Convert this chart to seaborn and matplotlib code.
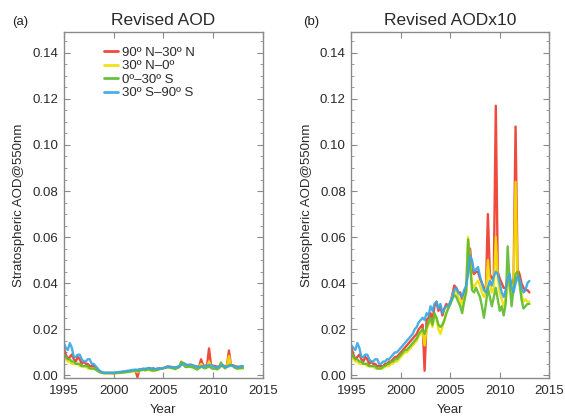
import numpy as np
import pandas as pd
import seaborn as sns
import matplotlib.pyplot as plt
from matplotlib.ticker import MultipleLocator

# time axis: 5 samples per year, 1995.0 - 2013.0
years = np.round(np.arange(1995.0, 2013.01, 0.2), 1)

regions = ['90º N–30º N', '30º N–0º', '0º–30º S', '30º S–90º S']
colors = ['#ee3a2c', '#f0e000', '#5fbb2f', '#3aa8e4']

# panel (b): Revised AODx10
b_red = [0.012, 0.009, 0.007, 0.008, 0.009, 0.007, 0.006, 0.008, 0.007, 0.005,
         0.006, 0.005, 0.005, 0.004, 0.004, 0.004, 0.004, 0.005, 0.005, 0.006,
         0.006, 0.007, 0.008, 0.008, 0.009, 0.010, 0.011, 0.012, 0.013, 0.014,
         0.015, 0.016, 0.017, 0.018, 0.020, 0.021, 0.022, 0.002, 0.024, 0.025,
         0.027, 0.024, 0.030, 0.032, 0.028, 0.030, 0.026, 0.029, 0.031, 0.030,
         0.031, 0.035, 0.039, 0.038, 0.036, 0.036, 0.033, 0.036, 0.038, 0.048,
         0.055, 0.045, 0.044, 0.045, 0.045, 0.042, 0.040, 0.038, 0.037, 0.070,
         0.044, 0.042, 0.043, 0.117, 0.045, 0.042, 0.040, 0.038, 0.038, 0.040,
         0.041, 0.040, 0.042, 0.108, 0.046, 0.044, 0.040, 0.038, 0.037, 0.037,
         0.036]
b_yellow = [0.009, 0.007, 0.006, 0.006, 0.005, 0.005, 0.005, 0.005, 0.004, 0.004,
            0.004, 0.004, 0.003, 0.003, 0.003, 0.003, 0.003, 0.004, 0.004, 0.004,
            0.005, 0.005, 0.006, 0.006, 0.007, 0.008, 0.009, 0.010, 0.010, 0.011,
            0.012, 0.013, 0.014, 0.015, 0.017, 0.018, 0.019, 0.013, 0.020, 0.022,
            0.024, 0.021, 0.026, 0.025, 0.020, 0.018, 0.021, 0.024, 0.027, 0.030,
            0.032, 0.034, 0.037, 0.036, 0.034, 0.033, 0.030, 0.034, 0.036, 0.060,
            0.050, 0.040, 0.038, 0.040, 0.041, 0.039, 0.036, 0.034, 0.036, 0.050,
            0.040, 0.036, 0.038, 0.060, 0.042, 0.036, 0.033, 0.030, 0.033, 0.038,
            0.042, 0.036, 0.038, 0.084, 0.042, 0.040, 0.035, 0.032, 0.033, 0.032,
            0.032]
b_green = [0.010, 0.008, 0.007, 0.007, 0.006, 0.006, 0.005, 0.005, 0.005, 0.004,
           0.004, 0.004, 0.004, 0.003, 0.003, 0.003, 0.004, 0.004, 0.005, 0.005,
           0.006, 0.006, 0.007, 0.007, 0.008, 0.009, 0.010, 0.011, 0.011, 0.012,
           0.013, 0.014, 0.015, 0.016, 0.018, 0.019, 0.020, 0.018, 0.021, 0.023,
           0.025, 0.022, 0.027, 0.025, 0.022, 0.021, 0.022, 0.024, 0.027, 0.029,
           0.031, 0.033, 0.035, 0.034, 0.032, 0.030, 0.027, 0.032, 0.036, 0.059,
           0.048, 0.037, 0.036, 0.038, 0.036, 0.034, 0.030, 0.025, 0.031, 0.038,
           0.034, 0.030, 0.034, 0.038, 0.033, 0.028, 0.030, 0.026, 0.031, 0.056,
           0.040, 0.030, 0.038, 0.044, 0.045, 0.040, 0.033, 0.029, 0.030, 0.031,
           0.031]
b_blue = [0.013, 0.012, 0.011, 0.014, 0.012, 0.008, 0.008, 0.009, 0.009, 0.007,
          0.006, 0.006, 0.007, 0.007, 0.005, 0.005, 0.006, 0.006, 0.007, 0.007,
          0.008, 0.009, 0.010, 0.010, 0.011, 0.012, 0.013, 0.014, 0.015, 0.016,
          0.017, 0.018, 0.020, 0.021, 0.023, 0.024, 0.025, 0.024, 0.027, 0.026,
          0.030, 0.028, 0.031, 0.032, 0.029, 0.031, 0.027, 0.029, 0.030, 0.030,
          0.032, 0.034, 0.037, 0.038, 0.036, 0.035, 0.034, 0.037, 0.039, 0.044,
          0.052, 0.050, 0.045, 0.046, 0.047, 0.043, 0.040, 0.037, 0.036, 0.038,
          0.041, 0.039, 0.043, 0.045, 0.044, 0.040, 0.036, 0.034, 0.037, 0.042,
          0.044, 0.038, 0.036, 0.040, 0.043, 0.042, 0.038, 0.036, 0.037, 0.040,
          0.041]

# panel (a): Revised AOD
a_red = [0.012, 0.009, 0.007, 0.008, 0.009, 0.007, 0.006, 0.008, 0.007, 0.005,
         0.006, 0.005, 0.005, 0.004, 0.004, 0.004, 0.003, 0.002, 0.0015, 0.0012,
         0.0010, 0.0010, 0.0010, 0.0010, 0.0010, 0.0010, 0.0011, 0.0012, 0.0013, 0.0014,
         0.0015, 0.0016, 0.0017, 0.0018, 0.0020, 0.0021, 0.0022, -0.0008, 0.0024, 0.0025,
         0.0027, 0.0024, 0.0030, 0.0032, 0.0028, 0.0030, 0.0026, 0.0029, 0.0031, 0.0030,
         0.0031, 0.0035, 0.0039, 0.0038, 0.0036, 0.0036, 0.0033, 0.0036, 0.0038, 0.0048,
         0.0055, 0.0045, 0.0044, 0.0045, 0.0045, 0.0042, 0.0040, 0.0038, 0.0037, 0.0070,
         0.0044, 0.0042, 0.0043, 0.0117, 0.0045, 0.0042, 0.0040, 0.0038, 0.0038, 0.0040,
         0.0041, 0.0040, 0.0042, 0.0108, 0.0046, 0.0044, 0.0040, 0.0038, 0.0037, 0.0037,
         0.0036]
a_yellow = [0.008, 0.007, 0.006, 0.006, 0.005, 0.005, 0.005, 0.005, 0.004, 0.004,
            0.004, 0.004, 0.003, 0.003, 0.003, 0.003, 0.0025, 0.002, 0.0015, 0.0012,
            0.0010, 0.0010, 0.0010, 0.0010, 0.0010, 0.0008, 0.0009, 0.0010, 0.0010, 0.0011,
            0.0012, 0.0013, 0.0014, 0.0015, 0.0017, 0.0018, 0.0019, 0.0013, 0.0020, 0.0022,
            0.0024, 0.0021, 0.0026, 0.0025, 0.0020, 0.0018, 0.0021, 0.0024, 0.0027, 0.0030,
            0.0032, 0.0034, 0.0037, 0.0036, 0.0034, 0.0033, 0.0030, 0.0034, 0.0036, 0.0060,
            0.0050, 0.0040, 0.0038, 0.0040, 0.0041, 0.0039, 0.0036, 0.0034, 0.0036, 0.0050,
            0.0040, 0.0036, 0.0038, 0.0060, 0.0042, 0.0036, 0.0033, 0.0030, 0.0033, 0.0038,
            0.0042, 0.0036, 0.0038, 0.0084, 0.0042, 0.0040, 0.0035, 0.0032, 0.0033, 0.0032,
            0.0032]
a_green = [0.009, 0.008, 0.007, 0.007, 0.006, 0.006, 0.005, 0.005, 0.005, 0.004,
           0.004, 0.004, 0.004, 0.003, 0.003, 0.003, 0.0025, 0.002, 0.0015, 0.0012,
           0.0010, 0.0010, 0.0010, 0.0010, 0.0010, 0.0009, 0.0010, 0.0011, 0.0011, 0.0012,
           0.0013, 0.0014, 0.0015, 0.0016, 0.0018, 0.0019, 0.0020, 0.0018, 0.0021, 0.0023,
           0.0025, 0.0022, 0.0027, 0.0025, 0.0022, 0.0021, 0.0022, 0.0024, 0.0027, 0.0029,
           0.0031, 0.0033, 0.0035, 0.0034, 0.0032, 0.0030, 0.0027, 0.0032, 0.0036, 0.0059,
           0.0048, 0.0037, 0.0036, 0.0038, 0.0036, 0.0034, 0.0030, 0.0025, 0.0031, 0.0038,
           0.0034, 0.0030, 0.0034, 0.0038, 0.0033, 0.0028, 0.0030, 0.0026, 0.0031, 0.0056,
           0.0040, 0.0030, 0.0038, 0.0044, 0.0045, 0.0040, 0.0033, 0.0029, 0.0030, 0.0031,
           0.0031]
a_blue = [0.014, 0.012, 0.011, 0.014, 0.012, 0.008, 0.008, 0.009, 0.009, 0.007,
          0.006, 0.006, 0.007, 0.007, 0.005, 0.005, 0.004, 0.003, 0.002, 0.0015,
          0.0012, 0.0012, 0.0012, 0.0012, 0.0012, 0.0012, 0.0013, 0.0014, 0.0015, 0.0016,
          0.0017, 0.0018, 0.0020, 0.0021, 0.0023, 0.0024, 0.0025, 0.0024, 0.0027, 0.0026,
          0.0030, 0.0028, 0.0031, 0.0032, 0.0029, 0.0031, 0.0027, 0.0029, 0.0030, 0.0030,
          0.0032, 0.0034, 0.0037, 0.0038, 0.0036, 0.0035, 0.0034, 0.0037, 0.0039, 0.0044,
          0.0052, 0.0050, 0.0045, 0.0046, 0.0047, 0.0043, 0.0040, 0.0037, 0.0036, 0.0038,
          0.0041, 0.0039, 0.0043, 0.0045, 0.0044, 0.0040, 0.0036, 0.0034, 0.0037, 0.0042,
          0.0044, 0.0038, 0.0036, 0.0040, 0.0043, 0.0042, 0.0038, 0.0036, 0.0037, 0.0040,
          0.0041]


def long_form(series):
    frames = []
    for name, vals in zip(regions, series):
        frames.append(pd.DataFrame({'year': years, 'aod': vals, 'region': name}))
    return pd.concat(frames, ignore_index=True)


df_a = long_form([a_red, a_yellow, a_green, a_blue])
df_b = long_form([b_red, b_yellow, b_green, b_blue])

sns.set_style('ticks')
plt.rcParams['font.family'] = ['Liberation Sans', 'DejaVu Sans']
plt.rcParams['axes.edgecolor'] = '#8a8a8a'

fig = plt.figure(figsize=(5.65, 4.16), dpi=100)
ax1 = fig.add_axes([0.113, 0.091, 0.352, 0.832])
ax2 = fig.add_axes([0.622, 0.091, 0.350, 0.832])

palette = dict(zip(regions, colors))

for ax, df, title, show_leg in [(ax1, df_a, 'Revised AOD', True),
                                (ax2, df_b, 'Revised AODx10', False)]:
    sns.lineplot(data=df, x='year', y='aod', hue='region', palette=palette,
                 linewidth=1.7, ax=ax, legend=show_leg, alpha=0.92)
    ax.set_xlim(1995, 2015)
    ax.set_ylim(-0.0012, 0.149)
    ax.xaxis.set_major_locator(MultipleLocator(5))
    ax.yaxis.set_major_locator(MultipleLocator(0.02))
    ax.yaxis.set_minor_locator(MultipleLocator(0.005))
    ax.yaxis.set_major_formatter(plt.FormatStrFormatter('%.2f'))
    ax.tick_params(axis='both', which='both', direction='in', top=True, right=True,
                   colors='#8a8a8a', labelcolor='#2a2a2a', labelsize=9.5, pad=4)
    ax.tick_params(axis='x', pad=5)
    ax.tick_params(which='major', length=4)
    ax.tick_params(which='minor', length=2.5)
    ax.set_xlabel('Year', fontsize=9.5, color='#2a2a2a', labelpad=5)
    ax.set_ylabel('Stratospheric AOD@550nm', fontsize=9.5, color='#2a2a2a', labelpad=5)
    ax.set_title(title, fontsize=12.5, color='#2a2a2a', pad=5)
    for sp in ax.spines.values():
        sp.set_linewidth(1.0)

leg = ax1.legend(loc='upper left', bbox_to_anchor=(0.155, 0.985), frameon=False,
                 fontsize=9.5, handlelength=1.1, handletextpad=0.3,
                 labelspacing=0.1, borderpad=0.2)
for line in leg.get_lines():
    line.set_linewidth(2)
for t in leg.get_texts():
    t.set_color('#2a2a2a')

fig.text(0.021, 0.947, '(a)', fontsize=9.5, color='#222222', va='center')
fig.text(0.537, 0.947, '(b)', fontsize=9.5, color='#222222', va='center')

fig.savefig('out.png', dpi=100)
